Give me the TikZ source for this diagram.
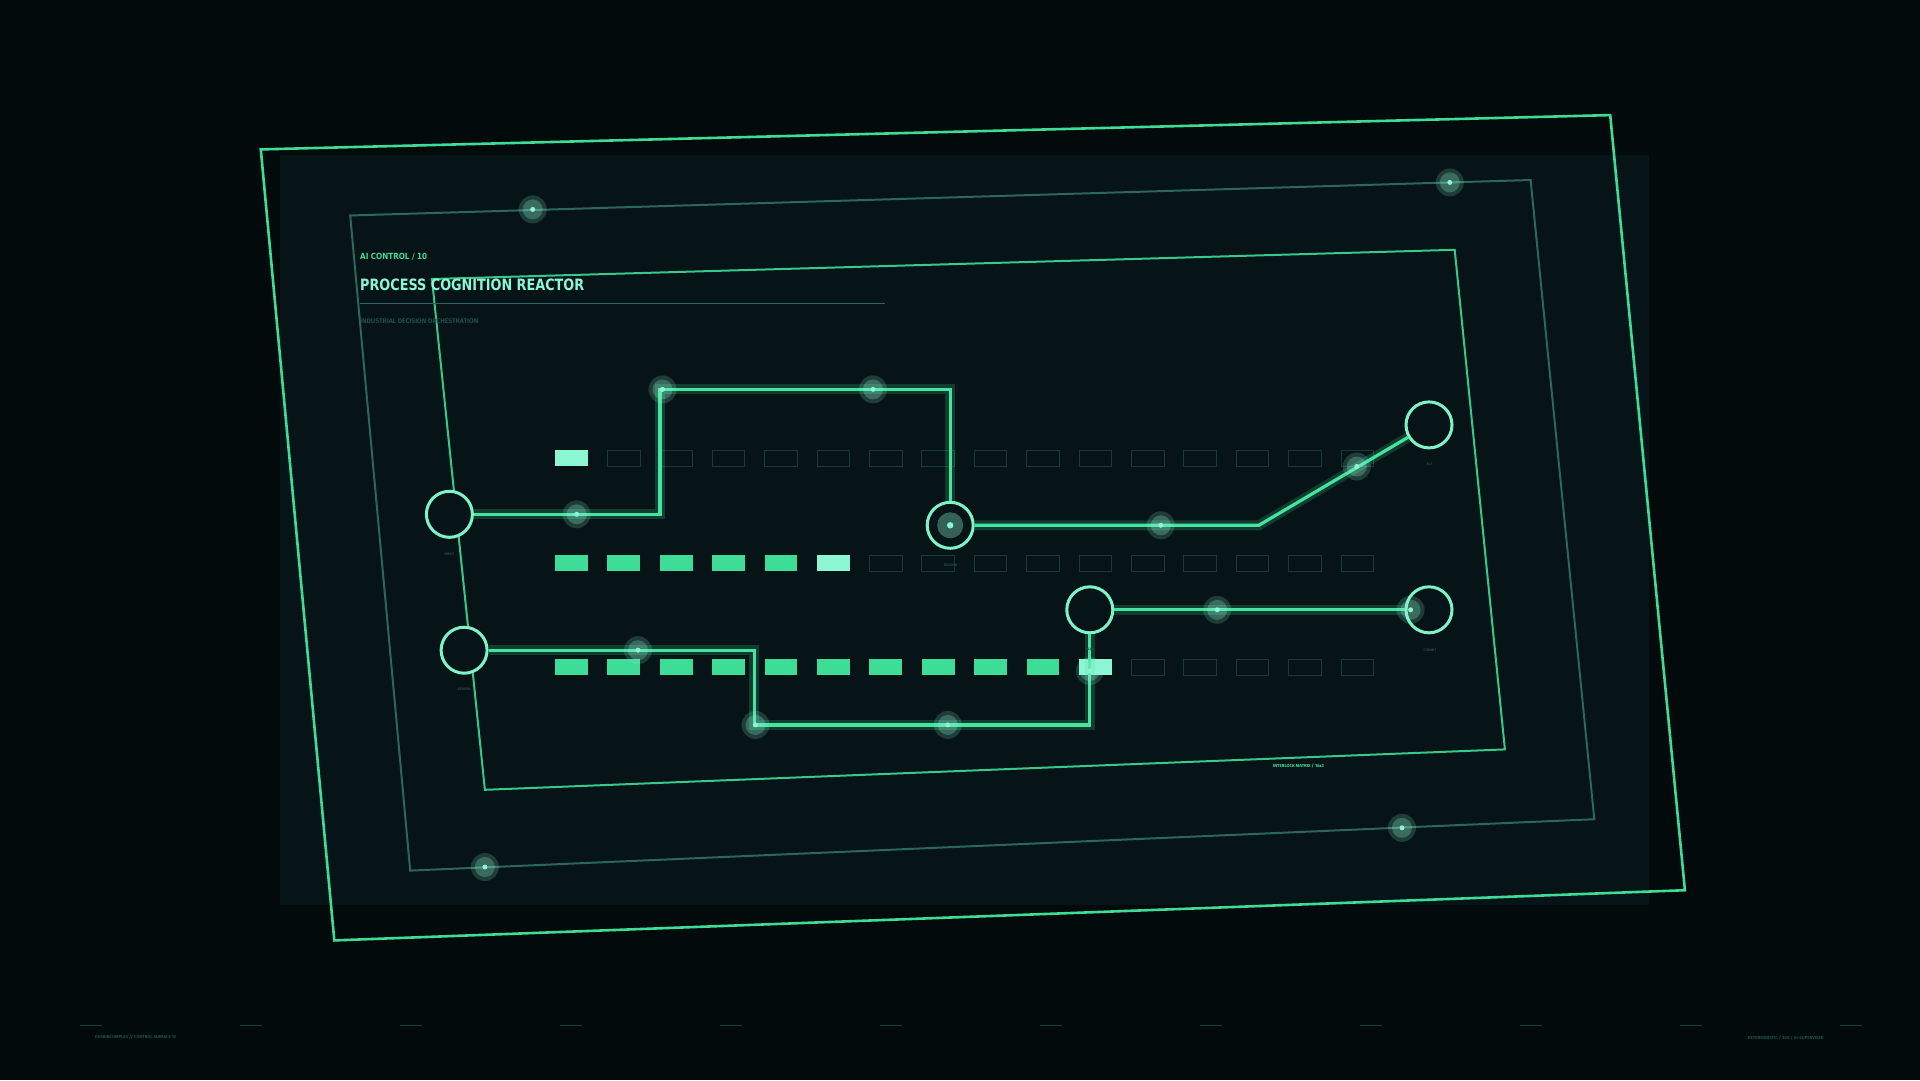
\documentclass[tikz,border=0pt]{standalone}
\usepackage{fontspec}
\usepackage{graphicx}
\setmainfont{Fira Sans}
\newfontfamily\headfont{DejaVu Sans}
\definecolor{bg}{HTML}{020A0C}
\definecolor{panel}{HTML}{061417}
\definecolor{neon}{HTML}{3DDC97}
\definecolor{wirec}{HTML}{44E3A2}
\definecolor{mint}{HTML}{8CF5D2}
\definecolor{ring}{HTML}{7DF3C8}
\definecolor{dimteal}{HTML}{2C665C}
\definecolor{cellline}{HTML}{1B3A37}
\definecolor{dimtext}{HTML}{1F4E47}
\tikzset{
  wire/.style={draw=wirec, line width=3.2pt, line join=miter,
    preaction={draw=neon, line width=10pt, opacity=0.2}},
  ringnode/.style={circle, draw=ring, line width=3pt, fill=panel, minimum size=46pt, inner sep=0pt},
  cellempty/.style={draw=cellline, line width=1pt},
  cellon/.style={fill=neon},
  cellhot/.style={fill=mint},
  tinylabel/.style={text=dimtext, font=\bfseries\fontsize{3.5}{4}\selectfont, inner sep=0pt},
  txt/.style={inner sep=0pt, anchor=west},
}
\newcommand{\halodot}[1]{%
  \fill[mint, opacity=0.18] #1 circle (14pt);
  \fill[mint, opacity=0.26] #1 circle (10pt);
  \fill[mint] #1 circle (2.5pt);}
\begin{document}
\begin{tikzpicture}[x=1pt,y=-1pt]
\fill[bg] (0,0) rectangle (1920,1080);
\useasboundingbox (0,0) rectangle (1920,1080);
% panel
\fill[panel] (280,155) rectangle (1649,905);
% frames
\draw[neon, line width=2.6pt, line join=miter] (260.8,149.4) -- (1610.2,115.1) -- (1684.9,890.2) -- (334.3,940.4) -- cycle;
\draw[dimteal, line width=2pt, line join=miter] (350.2,215.5) -- (1530.6,180) -- (1594.3,819.2) -- (410.2,870.6) -- cycle;
\draw[neon, line width=2pt, opacity=0.9, line join=miter] (432,279) -- (1454.7,249.8) -- (1504.9,749.4) -- (484.9,789.8) -- cycle;
% frame dots
\halodot{(532.7,209.4)}
\halodot{(1449.8,182.4)}
\halodot{(1402,827.8)}
\halodot{(484.9,867)}
% header
\node[txt, text=neon] (kicker) at (360,257) {\resizebox{67pt}{6.3pt}{\headfont\bfseries AI CONTROL / 10}};
\node[txt, text=mint] (title) at (360,284.5) {\resizebox{224pt}{11.6pt}{\headfont\bfseries PROCESS COGNITION REACTOR}};
\draw[dimteal, line width=1.2pt] (360,303.7) -- (885,303.7);
\node[txt, text=dimtext] (subtitle) at (360,320.8) {\resizebox{118pt}{!}{\bfseries INDUSTRIAL DECISION ORCHESTRATION}};
% cells
\foreach \i in {0,...,15}{
  \pgfmathsetmacro{\xl}{555+52.4*\i}
  \ifnum\i=0
    \fill[cellhot] (\xl,450) rectangle ++(32.7,16);
  \else
    \draw[cellempty] (\xl,450) rectangle ++(32.7,16);
  \fi
  \ifnum\i<5
    \fill[cellon] (\xl,555.3) rectangle ++(32.7,16);
  \else\ifnum\i=5
    \fill[cellhot] (\xl,555.3) rectangle ++(32.7,16);
  \else
    \draw[cellempty] (\xl,555.3) rectangle ++(32.7,16);
  \fi\fi
  \ifnum\i<10
    \fill[cellon] (\xl,659.4) rectangle ++(32.7,16);
  \else\ifnum\i=10
    \fill[cellhot] (\xl,659.4) rectangle ++(32.7,16);
  \else
    \draw[cellempty] (\xl,659.4) rectangle ++(32.7,16);
  \fi\fi
}
% nodes
\node[ringnode] (C1) at (449.4,514.3) {};
\node[ringnode] (C2) at (464.1,650.2) {};
\node[ringnode] (C3) at (950.2,525.3) {};
\node[ringnode] (C4) at (1089.8,609.8) {};
\node[ringnode] (C5) at (1429,424.9) {};
\node[ringnode] (C6) at (1429,609.8) {};
% waypoints
\coordinate (a1) at (660,514.3);
\coordinate (a2) at (660,389.4);
\coordinate (a3) at (950.2,389.4);
\coordinate (b1) at (1258.8,525.3);
\coordinate (d1) at (754.3,650.2);
\coordinate (d2) at (754.3,724.9);
\coordinate (d3) at (1089.8,724.9);
% wires
\draw[wire] (C1.east) -- (a1) -- (a2) -- (a3) -- (C3.north);
\draw[wire] (C3.east) -- (b1) -- (C5);
\draw[wire] (C4.east) -- (C6.west);
\draw[wire] (C2.east) -- (d1) -- (d2) -- (d3) -- (C4.south);
% C3 core
\fill[mint, opacity=0.35] (C3) circle (13pt);
\fill[mint] (C3) circle (3.2pt);
% path dots
\halodot{(576.7,514.3)}
\halodot{(662.5,389.4)}
\halodot{(873,389.4)}
\halodot{(1160.8,525.3)}
\halodot{(1356.8,466.5)}
\halodot{(1217.2,609.8)}
\halodot{(1410.6,609.8)}
\halodot{(638,650.2)}
\halodot{(755.5,724.9)}
\halodot{(947.8,724.9)}
\halodot{(1089.8,671)}
% node labels
\node[tinylabel] (l1) at (449.4,554.5) {INPUT};
\node[tinylabel] (l2) at (464.1,689.5) {SENSOR};
\node[tinylabel] (l3) at (950.5,565) {REASON};
\node[tinylabel] (l4) at (1090,649) {PLAN};
\node[tinylabel] (l5) at (1429.5,464.5) {ACT};
\node[tinylabel] (l6) at (1430,650) {COMMIT};
\node[inner sep=0pt, text=neon] (interlock) at (1298.5,765.7) {\resizebox{51pt}{!}{\bfseries INTERLOCK MATRIX / 16x3}};
% bottom ticks
\foreach \k in {0,...,11}{
  \draw[dimteal, line width=1pt, opacity=0.6] (80+160*\k,1025) -- ++(22,0);
}
\node[txt, text=dimtext] (footl) at (95,1037) {\resizebox{81pt}{!}{\bfseries DESIGNCOMPLEX // CONTROL SURFACE 12}};
\node[inner sep=0pt, anchor=east, text=dimtext] (footr) at (1824,1037.7) {\resizebox{76pt}{!}{\bfseries DETERMINISTIC / 300 / AI-SUPERVISED}};
\end{tikzpicture}
\end{document}
